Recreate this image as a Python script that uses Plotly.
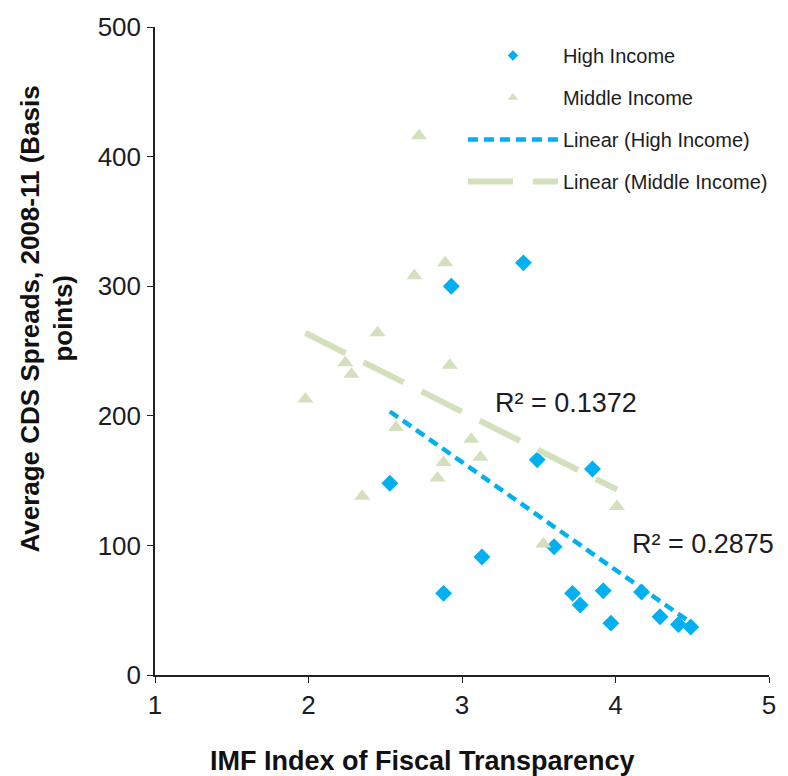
import numpy as np
import plotly.graph_objects as go

# IMF fiscal transparency index vs average CDS spreads (bp), 2008-11
high_x = [2.53, 2.93, 3.40, 2.88, 3.13, 3.49, 3.60, 3.85, 3.72, 3.77, 3.92, 3.97, 4.17, 4.29, 4.41, 4.49]
high_y = [148, 300, 318, 63, 91, 166, 99, 159, 63, 54, 65, 40, 64, 45, 39, 37]

mid_x = [1.98, 2.72, 2.89, 2.69, 2.45, 2.24, 2.28, 2.92, 2.35, 2.57, 3.06, 3.12, 2.88, 2.84, 4.01, 3.53]
mid_y = [213, 416, 318, 308, 264, 241, 232, 239, 138, 191, 182, 168, 164, 152, 130, 101]

r2_labels = ["R² = 0.1372", "R² = 0.2875"]

BLUE = "#00b0f0"
GREEN = "#d3dfbd"
TXT = "#1c1c24"
FONT = "Liberation Sans, Arial, sans-serif"


def trend(xs, ys):
    slope, icpt = np.polyfit(xs, ys, 1)
    xx = np.array([min(xs), max(xs)])
    return xx, slope * xx + icpt


fig = go.Figure()

# data markers (legend handled by small proxy markers below)
fig.add_trace(go.Scatter(x=high_x, y=high_y, mode="markers", showlegend=False,
                         marker=dict(symbol="diamond", size=13, color=BLUE)))
fig.add_trace(go.Scatter(x=mid_x, y=mid_y, mode="markers", showlegend=False,
                         marker=dict(symbol="triangle-up", size=14, color=GREEN)))

fig.add_trace(go.Scatter(x=[None], y=[None], mode="markers", name="High Income",
                         marker=dict(symbol="diamond", size=8, color=BLUE), legendgroup="a"))
fig.add_trace(go.Scatter(x=[None], y=[None], mode="markers", name="Middle Income",
                         marker=dict(symbol="triangle-up", size=9, color=GREEN), legendgroup="b"))

hx, hy = trend(high_x, high_y)
fig.add_trace(go.Scatter(
    x=hx, y=hy, mode="lines", name="Linear (High Income)",
    line=dict(color=BLUE, width=4.5, dash="10px,6px"), legendgroup="c"
))
mx, my = trend(mid_x, mid_y)
fig.add_trace(go.Scatter(
    x=mx, y=my, mode="lines", name="Linear (Middle Income)",
    line=dict(color=GREEN, width=6, dash="45px,20px"), legendgroup="d"
))

fig.add_annotation(x=3.68, y=210, xref="x", yref="y", text=r2_labels[0],
                   showarrow=False, font=dict(size=27, color=TXT))
fig.add_annotation(x=4.57, y=101, xref="x", yref="y", text=r2_labels[1],
                   showarrow=False, font=dict(size=27, color=TXT))

# axis titles as annotations for exact placement
fig.add_annotation(x=-0.2036, y=0.55, xref="paper", yref="paper",
                   xanchor="center", yanchor="middle",
                   text="<b>Average CDS Spreads, 2008-11 (Basis</b>",
                   textangle=-90, showarrow=False, font=dict(size=26, color="#111"))
fig.add_annotation(x=-0.1498, y=0.55, xref="paper", yref="paper",
                   xanchor="center", yanchor="middle",
                   text="<b>points)</b>",
                   textangle=-90, showarrow=False, font=dict(size=26, color="#111"))
fig.add_annotation(x=0.435, y=-0.133, xref="paper", yref="paper",
                   xanchor="center", yanchor="middle",
                   text="<b>IMF Index of Fiscal Transparency</b>",
                   showarrow=False, font=dict(size=27, color="#111"))

axis_style = dict(showline=True, linecolor="#222", linewidth=1.5,
                  ticks="outside", ticklen=6, tickcolor="#222", showgrid=False,
                  zeroline=False, tickfont=dict(size=26, color=TXT))
fig.update_xaxes(range=[1, 5], dtick=1, ticklabelstandoff=0, **axis_style)
fig.update_yaxes(range=[0, 500], dtick=100, ticklabelstandoff=1, **axis_style)

fig.update_layout(
    width=788, height=776,
    margin=dict(l=155, r=19, t=22, b=101),
    plot_bgcolor="white", paper_bgcolor="white",
    font=dict(family=FONT, color=TXT),
    legend=dict(x=0.5015, y=0.986, xanchor="left", yanchor="top",
                font=dict(size=20, color=TXT), itemwidth=90,
                tracegroupgap=13, bgcolor="rgba(0,0,0,0)"),
)

fig.write_html("out.html", config={"displayModeBar": False},
               post_script="document.body.style.margin='0';")
